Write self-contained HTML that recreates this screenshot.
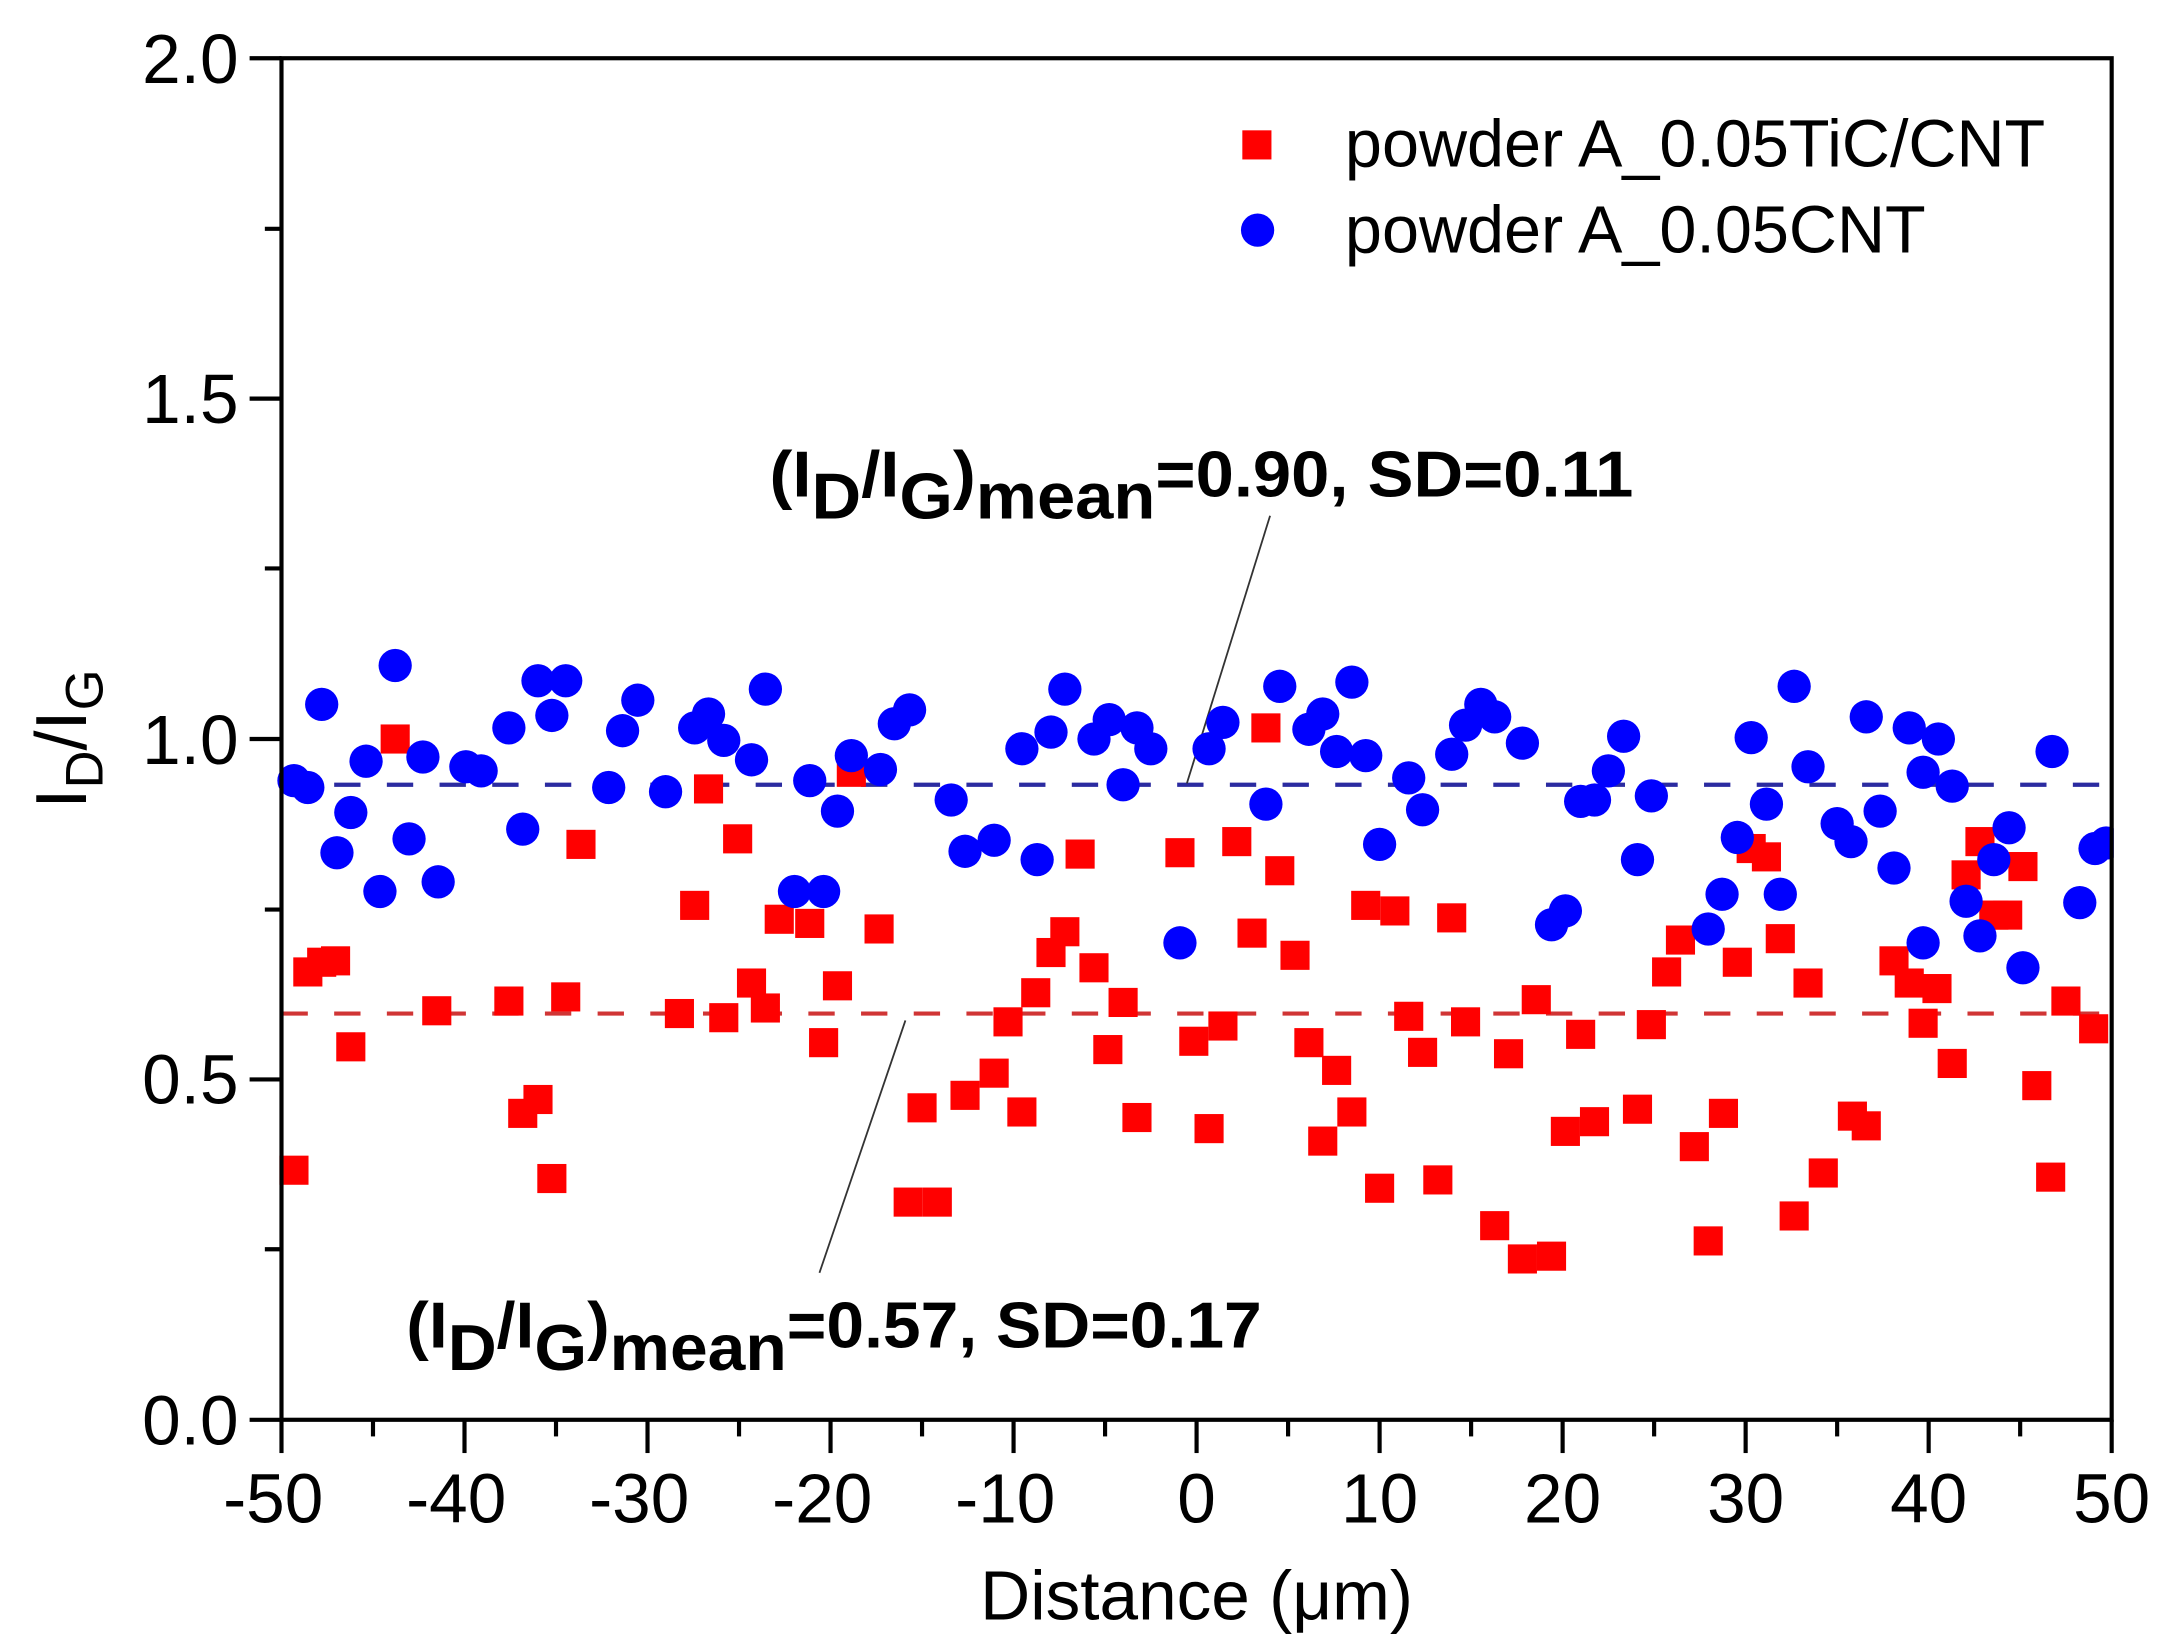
<!DOCTYPE html>
<html><head><meta charset="utf-8"><style>html,body{margin:0;padding:0;background:#fff}svg{display:block}</style></head>
<body>
<svg width="2163" height="1648" viewBox="0 0 1560 1188.6" xmlns="http://www.w3.org/2000/svg" font-family="Liberation Sans, Arial, sans-serif">
<rect x="0" y="0" width="1560" height="1189" fill="#fff"/>
<!-- dashed mean lines -->
<line x1="203" y1="566" x2="1523" y2="566" stroke="#2b2ba0" stroke-width="3" stroke-dasharray="19,19"/>
<line x1="203" y1="731" x2="1523" y2="731" stroke="#d03535" stroke-width="3" stroke-dasharray="19,19"/>
<!-- leader lines -->
<line x1="856" y1="565" x2="916" y2="372" stroke="#333" stroke-width="1.3"/>
<line x1="653" y1="736" x2="591" y2="918" stroke="#333" stroke-width="1.3"/>
<!-- red squares -->
<g fill="#ff0000">
<path id="sq" d=""/>
</g>
<g fill="#ff0000" transform="translate(-10.5,-10.5)">
<rect x="212" y="844" width="21" height="21"/><rect x="222" y="701" width="21" height="21"/><rect x="232" y="694" width="21" height="21"/><rect x="242" y="693" width="21" height="21"/><rect x="253" y="755" width="21" height="21"/><rect x="285" y="533" width="21" height="21"/><rect x="315" y="729" width="21" height="21"/><rect x="367" y="722" width="21" height="21"/><rect x="377" y="803" width="21" height="21"/><rect x="388" y="793" width="21" height="21"/><rect x="398" y="850" width="21" height="21"/><rect x="408" y="719" width="21" height="21"/><rect x="419" y="609" width="21" height="21"/><rect x="490" y="731" width="21" height="21"/><rect x="501" y="653" width="21" height="21"/><rect x="511" y="569" width="21" height="21"/><rect x="522" y="734" width="21" height="21"/><rect x="532" y="605" width="21" height="21"/><rect x="542" y="709" width="21" height="21"/><rect x="552" y="727" width="21" height="21"/><rect x="562" y="663" width="21" height="21"/><rect x="584" y="666" width="21" height="21"/><rect x="594" y="752" width="21" height="21"/><rect x="604" y="711" width="21" height="21"/><rect x="614" y="557" width="21" height="21"/><rect x="634" y="670" width="21" height="21"/><rect x="655" y="867" width="21" height="21"/><rect x="665" y="799" width="21" height="21"/><rect x="676" y="867" width="21" height="21"/><rect x="696" y="790" width="21" height="21"/><rect x="717" y="774" width="21" height="21"/><rect x="727" y="737" width="21" height="21"/><rect x="737" y="802" width="21" height="21"/><rect x="747" y="716" width="21" height="21"/><rect x="758" y="687" width="21" height="21"/><rect x="768" y="672" width="21" height="21"/><rect x="779" y="616" width="21" height="21"/><rect x="789" y="698" width="21" height="21"/><rect x="799" y="757" width="21" height="21"/><rect x="810" y="723" width="21" height="21"/><rect x="820" y="806" width="21" height="21"/><rect x="851" y="615" width="21" height="21"/><rect x="861" y="751" width="21" height="21"/><rect x="872" y="814" width="21" height="21"/><rect x="882" y="740" width="21" height="21"/><rect x="892" y="607" width="21" height="21"/><rect x="903" y="673" width="21" height="21"/><rect x="913" y="525" width="21" height="21"/><rect x="923" y="628" width="21" height="21"/><rect x="934" y="689" width="21" height="21"/><rect x="944" y="752" width="21" height="21"/><rect x="954" y="823" width="21" height="21"/><rect x="964" y="772" width="21" height="21"/><rect x="975" y="802" width="21" height="21"/><rect x="985" y="653" width="21" height="21"/><rect x="995" y="857" width="21" height="21"/><rect x="1006" y="657" width="21" height="21"/><rect x="1016" y="733" width="21" height="21"/><rect x="1026" y="759" width="21" height="21"/><rect x="1037" y="851" width="21" height="21"/><rect x="1047" y="662" width="21" height="21"/><rect x="1057" y="737" width="21" height="21"/><rect x="1078" y="884" width="21" height="21"/><rect x="1088" y="760" width="21" height="21"/><rect x="1098" y="908" width="21" height="21"/><rect x="1108" y="721" width="21" height="21"/><rect x="1119" y="906" width="21" height="21"/><rect x="1129" y="816" width="21" height="21"/><rect x="1140" y="746" width="21" height="21"/><rect x="1150" y="809" width="21" height="21"/><rect x="1181" y="800" width="21" height="21"/><rect x="1191" y="739" width="21" height="21"/><rect x="1202" y="701" width="21" height="21"/><rect x="1212" y="678" width="21" height="21"/><rect x="1222" y="827" width="21" height="21"/><rect x="1232" y="895" width="21" height="21"/><rect x="1243" y="803" width="21" height="21"/><rect x="1253" y="694" width="21" height="21"/><rect x="1263" y="612" width="21" height="21"/><rect x="1274" y="618" width="21" height="21"/><rect x="1284" y="677" width="21" height="21"/><rect x="1294" y="877" width="21" height="21"/><rect x="1304" y="709" width="21" height="21"/><rect x="1315" y="846" width="21" height="21"/><rect x="1336" y="805" width="21" height="21"/><rect x="1346" y="812" width="21" height="21"/><rect x="1366" y="693" width="21" height="21"/><rect x="1377" y="709" width="21" height="21"/><rect x="1387" y="738" width="21" height="21"/><rect x="1397" y="713" width="21" height="21"/><rect x="1408" y="767" width="21" height="21"/><rect x="1418" y="631" width="21" height="21"/><rect x="1428" y="607" width="21" height="21"/><rect x="1438" y="660" width="21" height="21"/><rect x="1448" y="660" width="21" height="21"/><rect x="1459" y="625" width="21" height="21"/><rect x="1469" y="783" width="21" height="21"/><rect x="1479" y="849" width="21" height="21"/><rect x="1490" y="722" width="21" height="21"/><rect x="1510" y="742" width="21" height="21"/>
</g>
<!-- blue circles -->
<g fill="#0000ff">
<circle cx="212" cy="563" r="12"/><circle cx="222" cy="568" r="12"/><circle cx="232" cy="508" r="12"/><circle cx="243" cy="615" r="12"/><circle cx="253" cy="586" r="12"/><circle cx="264" cy="549" r="12"/><circle cx="274" cy="643" r="12"/><circle cx="285" cy="480" r="12"/><circle cx="295" cy="605" r="12"/><circle cx="305" cy="546" r="12"/><circle cx="316" cy="636" r="12"/><circle cx="336" cy="553" r="12"/><circle cx="347" cy="556" r="12"/><circle cx="367" cy="525" r="12"/><circle cx="377" cy="598" r="12"/><circle cx="388" cy="491" r="12"/><circle cx="398" cy="516" r="12"/><circle cx="408" cy="491" r="12"/><circle cx="439" cy="568" r="12"/><circle cx="449" cy="527" r="12"/><circle cx="460" cy="505" r="12"/><circle cx="480" cy="571" r="12"/><circle cx="501" cy="525" r="12"/><circle cx="511" cy="515" r="12"/><circle cx="522" cy="534" r="12"/><circle cx="542" cy="548" r="12"/><circle cx="552" cy="497" r="12"/><circle cx="573" cy="643" r="12"/><circle cx="584" cy="563" r="12"/><circle cx="594" cy="643" r="12"/><circle cx="604" cy="585" r="12"/><circle cx="614" cy="545" r="12"/><circle cx="635" cy="555" r="12"/><circle cx="645" cy="522" r="12"/><circle cx="656" cy="512" r="12"/><circle cx="686" cy="577" r="12"/><circle cx="696" cy="614" r="12"/><circle cx="717" cy="606" r="12"/><circle cx="737" cy="540" r="12"/><circle cx="748" cy="620" r="12"/><circle cx="758" cy="528" r="12"/><circle cx="768" cy="497" r="12"/><circle cx="789" cy="533" r="12"/><circle cx="800" cy="519" r="12"/><circle cx="810" cy="566" r="12"/><circle cx="820" cy="525" r="12"/><circle cx="830" cy="540" r="12"/><circle cx="851" cy="680" r="12"/><circle cx="872" cy="540" r="12"/><circle cx="882" cy="521" r="12"/><circle cx="913" cy="580" r="12"/><circle cx="923" cy="495" r="12"/><circle cx="944" cy="526" r="12"/><circle cx="954" cy="515" r="12"/><circle cx="964" cy="542" r="12"/><circle cx="975" cy="492" r="12"/><circle cx="985" cy="545" r="12"/><circle cx="995" cy="609" r="12"/><circle cx="1016" cy="561" r="12"/><circle cx="1026" cy="584" r="12"/><circle cx="1047" cy="544" r="12"/><circle cx="1057" cy="523" r="12"/><circle cx="1068" cy="508" r="12"/><circle cx="1078" cy="517" r="12"/><circle cx="1098" cy="536" r="12"/><circle cx="1119" cy="667" r="12"/><circle cx="1129" cy="657" r="12"/><circle cx="1140" cy="578" r="12"/><circle cx="1150" cy="577" r="12"/><circle cx="1160" cy="556" r="12"/><circle cx="1171" cy="531" r="12"/><circle cx="1181" cy="620" r="12"/><circle cx="1191" cy="574" r="12"/><circle cx="1232" cy="670" r="12"/><circle cx="1242" cy="645" r="12"/><circle cx="1253" cy="604" r="12"/><circle cx="1263" cy="532" r="12"/><circle cx="1274" cy="580" r="12"/><circle cx="1284" cy="645" r="12"/><circle cx="1294" cy="495" r="12"/><circle cx="1304" cy="553" r="12"/><circle cx="1325" cy="594" r="12"/><circle cx="1335" cy="607" r="12"/><circle cx="1346" cy="517" r="12"/><circle cx="1356" cy="585" r="12"/><circle cx="1366" cy="626" r="12"/><circle cx="1377" cy="525" r="12"/><circle cx="1387" cy="557" r="12"/><circle cx="1387" cy="680" r="12"/><circle cx="1398" cy="533" r="12"/><circle cx="1408" cy="567" r="12"/><circle cx="1418" cy="650" r="12"/><circle cx="1428" cy="675" r="12"/><circle cx="1438" cy="620" r="12"/><circle cx="1449" cy="597" r="12"/><circle cx="1459" cy="698" r="12"/><circle cx="1480" cy="542" r="12"/><circle cx="1500" cy="651" r="12"/><circle cx="1511" cy="612" r="12"/><circle cx="1519" cy="608" r="12"/>
</g>
<!-- white mask outside plot to clip markers -->
<rect x="1524.5" y="0" width="40" height="1189" fill="#fff"/>
<!-- axes frame -->
<rect x="203" y="42" width="1320" height="982" fill="none" stroke="#000" stroke-width="3"/>
<!-- y ticks (outward) -->
<g stroke="#000" stroke-width="3">
<line x1="180" y1="1024" x2="203" y2="1024"/><line x1="180" y1="778.5" x2="203" y2="778.5"/><line x1="180" y1="533" x2="203" y2="533"/><line x1="180" y1="287.5" x2="203" y2="287.5"/><line x1="180" y1="42" x2="203" y2="42"/>
<line x1="191" y1="901" x2="203" y2="901"/><line x1="191" y1="656" x2="203" y2="656"/><line x1="191" y1="410" x2="203" y2="410"/><line x1="191" y1="165" x2="203" y2="165"/>
<line x1="203" y1="1024" x2="203" y2="1048"/><line x1="335" y1="1024" x2="335" y2="1048"/><line x1="467" y1="1024" x2="467" y2="1048"/><line x1="599" y1="1024" x2="599" y2="1048"/><line x1="731" y1="1024" x2="731" y2="1048"/><line x1="863" y1="1024" x2="863" y2="1048"/><line x1="995" y1="1024" x2="995" y2="1048"/><line x1="1127" y1="1024" x2="1127" y2="1048"/><line x1="1259" y1="1024" x2="1259" y2="1048"/><line x1="1391" y1="1024" x2="1391" y2="1048"/><line x1="1523" y1="1024" x2="1523" y2="1048"/>
<line x1="269" y1="1024" x2="269" y2="1036"/><line x1="401" y1="1024" x2="401" y2="1036"/><line x1="533" y1="1024" x2="533" y2="1036"/><line x1="665" y1="1024" x2="665" y2="1036"/><line x1="797" y1="1024" x2="797" y2="1036"/><line x1="929" y1="1024" x2="929" y2="1036"/><line x1="1061" y1="1024" x2="1061" y2="1036"/><line x1="1193" y1="1024" x2="1193" y2="1036"/><line x1="1325" y1="1024" x2="1325" y2="1036"/><line x1="1457" y1="1024" x2="1457" y2="1036"/>
</g>
<!-- tick labels -->
<g font-size="50" fill="#000" text-anchor="end">
<text x="172" y="1042">0.0</text><text x="172" y="796">0.5</text><text x="172" y="551">1.0</text><text x="172" y="305">1.5</text><text x="172" y="60">2.0</text>
</g>
<g font-size="50" fill="#000" text-anchor="middle">
<text x="197" y="1098">-50</text><text x="329" y="1098">-40</text><text x="461" y="1098">-30</text><text x="593" y="1098">-20</text><text x="725" y="1098">-10</text><text x="863" y="1098">0</text><text x="995" y="1098">10</text><text x="1127" y="1098">20</text><text x="1259" y="1098">30</text><text x="1391" y="1098">40</text><text x="1523" y="1098">50</text>
</g>
<text x="863" y="1168" font-size="50" text-anchor="middle" fill="#000">Distance (μm)</text>
<!-- y label -->
<g transform="translate(62,533) rotate(-90)">
<text x="0" y="0" font-size="52" text-anchor="middle" fill="#000">I<tspan font-size="38" dy="12">D</tspan><tspan dy="-12">/I</tspan><tspan font-size="38" dy="12">G</tspan></text>
</g>
<!-- legend -->
<rect x="896" y="94" width="21" height="21" fill="#ff0000"/>
<circle cx="907" cy="166" r="12" fill="#0000ff"/>
<text x="970" y="120" font-size="48" fill="#000">powder A_0.05TiC/CNT</text>
<text x="970" y="182" font-size="48" fill="#000">powder A_0.05CNT</text>
<!-- annotations -->
<text x="555" y="358" font-size="47" font-weight="bold" fill="#000" textLength="623" lengthAdjust="spacingAndGlyphs">(I<tspan dy="16">D</tspan><tspan dy="-16">/I</tspan><tspan dy="16">G</tspan><tspan dy="-16">)</tspan><tspan dy="16">mean</tspan><tspan dy="-16">=0.90, SD=0.11</tspan></text>
<text x="293" y="972" font-size="47" font-weight="bold" fill="#000" textLength="617" lengthAdjust="spacingAndGlyphs">(I<tspan dy="16">D</tspan><tspan dy="-16">/I</tspan><tspan dy="16">G</tspan><tspan dy="-16">)</tspan><tspan dy="16">mean</tspan><tspan dy="-16">=0.57, SD=0.17</tspan></text>
</svg>
</body></html>
